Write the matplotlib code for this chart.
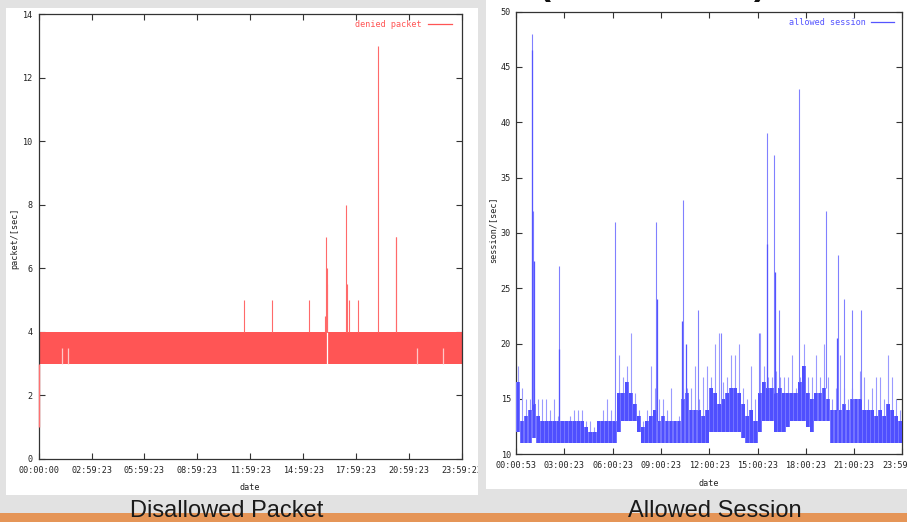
import matplotlib
matplotlib.use("Agg")
import matplotlib.pyplot as plt
import numpy as np
from matplotlib.patches import Rectangle

W, H = 907, 522

# ---------------- data: denied packets (left chart) ----------------
denied_xtick_labels = ["00:00:00", "02:59:23", "05:59:23", "08:59:23", "11:59:23",
                       "14:59:23", "17:59:23", "20:59:23", "23:59:23"]
denied_yticks = [0, 2, 4, 6, 8, 10, 12, 14]
denied_band_low = 3.0
denied_band_high = 4.0
denied_start_value = 1.0
denied_spike_hours = [11.65, 13.22, 15.35, 16.25, 16.30, 16.33, 16.37,
                      17.44, 17.47, 17.62, 18.13, 19.27, 20.26, 20.30]
denied_spike_values = [5.0, 5.0, 5.0, 4.5, 7.0, 5.5, 6.0,
                       8.0, 5.5, 5.0, 5.0, 13.0, 7.0, 7.0]
denied_notch_hours = [1.32, 1.66, 21.48, 22.96]
denied_notch_value = 3.5
denied_gap_hours = [16.33]

# ---------------- data: allowed sessions (right chart) ----------------
session_xtick_labels = ["00:00:53", "03:00:23", "06:00:23", "09:00:23", "12:00:23",
                        "15:00:23", "18:00:23", "21:00:23", "23:59:53"]
session_yticks = [10, 15, 20, 25, 30, 35, 40, 45, 50]
# per quarter-hour: lower edge of dense band, upper edge of dense band, highest thin line
session_low = [12, 11, 11, 11, 11.5, 11, 11, 11, 11, 11, 11, 11, 11, 11, 11, 11,
               11, 11, 11, 11, 11, 11, 11, 11, 11, 12, 13, 13, 13, 13, 12, 11,
               11, 11, 11, 11, 11, 11, 11, 11, 11, 11, 11, 11, 11, 11, 11, 11,
               12, 12, 12, 12, 12, 12, 12, 12, 11.5, 11, 11, 11, 12, 13, 13, 13,
               12, 12, 12, 12.5, 13, 13, 13, 13, 12.5, 12, 13, 13, 13, 13, 11, 11,
               11, 11, 11, 11, 11, 11, 11, 11, 11, 11, 11, 11, 11, 11, 11, 11]
session_high = [16.5, 13, 13.5, 14, 14.5, 13.5, 13, 13, 13, 13, 13, 13, 13, 13, 13, 13,
                13, 12.5, 12, 12, 13, 13, 13, 13, 13, 15.5, 15.5, 16.5, 15.5, 14.5, 13.5, 12.5,
                13, 13.5, 14, 13, 13.5, 13, 13, 13, 13, 15, 15.5, 14, 14, 14, 13.5, 14,
                16, 15.5, 14.5, 15, 15.5, 16, 16, 15.5, 14.5, 13.5, 14, 13, 15.5, 16.5, 16, 16,
                15.5, 16, 15.5, 15.5, 15.5, 15.5, 16.5, 18, 15.5, 15, 15.5, 15.5, 16, 15, 14, 14,
                14, 14.5, 14, 15, 15, 15, 14, 14, 14, 13.5, 14, 13.5, 14.5, 14, 13.5, 13]
session_light = [18, 16, 15, 15, 16, 15, 15, 15, 14, 15, 13.5, 13, 13, 13.5, 14, 14,
                 14, 13, 13, 12.5, 13, 14, 15, 14, 14, 19, 17, 18, 21, 15.5, 14, 13,
                 14, 18, 16, 15, 15, 14, 16, 13, 13.5, 16, 16, 16, 18, 15, 17, 18,
                 17, 20, 21, 16.5, 17, 19, 19, 20, 16, 15, 18, 15, 21, 18, 17, 17,
                 17.5, 17, 17, 17, 19, 16, 17, 20, 17, 17, 19, 17, 20, 17, 15, 16,
                 19, 16, 15, 16, 15, 17.5, 17, 15, 16, 17, 17, 15, 19, 17, 15, 14]
session_spike_hours = [0.975, 1.075, 2.67, 6.17, 8.70, 10.39, 11.30, 12.71,
                       15.11, 15.56, 16.04, 16.35, 17.60, 19.24, 20.00, 20.39,
                       20.89, 21.45]
session_spike_values = [48.0, 32.0, 27.0, 31.0, 31.0, 33.0, 23.0, 21.0,
                        21.0, 39.0, 37.0, 23.0, 43.0, 32.0, 28.0, 24.0,
                        23.0, 23.0]
session_dense_spike_hours = [0.99, 1.137, 2.68, 8.78, 10.33, 10.54, 15.58, 16.06, 19.92]
session_dense_spike_values = [46.5, 27.5, 19.5, 24.0, 22.0, 20.0, 29.0, 26.5, 20.5]

# ---------------- layout helpers ----------------
BG = "#e2e2e2"
RED = "#ff5555"
BLUE = "#5555ff"
FRAME = "#333333"
MONO = "DejaVu Sans Mono"


def fx(px):
    return px / W


def fy(py):
    return 1 - py / H


fig = plt.figure(figsize=(W / 100, H / 100), dpi=100, facecolor=BG)

# white panels of the slide
fig.patches.append(Rectangle((fx(6), fy(495)), (478 - 6) / W, (495 - 8) / H,
                             transform=fig.transFigure, facecolor="white",
                             edgecolor="none", zorder=-5))
fig.patches.append(Rectangle((fx(486), fy(489)), (907 - 486) / W, 489 / H,
                             transform=fig.transFigure, facecolor="white",
                             edgecolor="none", zorder=-5))
# orange footer bar
fig.patches.append(Rectangle((0, 0), 1, (522 - 513) / H, transform=fig.transFigure,
                             facecolor="#e59557", edgecolor="none", zorder=-4))


def style_axes(ax, labels, yticks, ylim, xpad, ypad):
    ax.set_facecolor("none")
    ax.set_xlim(0, 24)
    ax.set_ylim(*ylim)
    ax.set_xticks(np.arange(0, 25, 3))
    ax.set_xticklabels(labels)
    ax.set_yticks(yticks)
    ax.set_yticklabels([str(v) for v in yticks])
    ax.tick_params(direction="in", top=True, right=True, length=4.3, width=0.8,
                   color=FRAME, labelsize=6.1, labelcolor="#222222")
    ax.tick_params(axis="x", pad=xpad)
    ax.tick_params(axis="y", pad=ypad)
    for lab in ax.get_xticklabels() + ax.get_yticklabels():
        lab.set_family(MONO)
    for sp in ax.spines.values():
        sp.set_color(FRAME)
        sp.set_linewidth(0.9)


# ---------------- left chart ----------------
axL = fig.add_axes([fx(38.7), fy(459), (461.7 - 38.7) / W, (459 - 14.3) / H])
style_axes(axL, denied_xtick_labels, denied_yticks, (0, 14), 5.0, 4.6)
axL.fill_between([0, 24], denied_band_low, denied_band_high, color=RED, lw=0, zorder=2)
axL.vlines([0.0], denied_start_value, denied_band_low, color="#ff7070", lw=1.0,
           zorder=5, clip_on=False)
axL.vlines(denied_notch_hours, denied_band_low, denied_notch_value, color="#ffc8c8",
           lw=0.9, zorder=3)
axL.vlines(denied_gap_hours, denied_band_low, denied_band_high, color="white",
           lw=0.9, zorder=3)
axL.vlines(denied_spike_hours, denied_band_high, denied_spike_values, color="#ff6a6a",
           lw=0.8, zorder=3)
axL.plot([], [], color=RED, lw=0.9, label="denied packet")
legL = axL.legend(loc="upper right", bbox_to_anchor=(0.978, 0.987), frameon=False,
                  markerfirst=False, handlelength=2.9, handletextpad=0.7,
                  borderpad=0, borderaxespad=0,
                  prop={"family": MONO, "size": 6.1}, labelcolor=RED)

# ---------------- right chart ----------------
axR = fig.add_axes([fx(516), fy(454.3), (902.4 - 516) / W, (454.3 - 11.6) / H])
style_axes(axR, session_xtick_labels, session_yticks, (10, 50), 5.0, 3.6)
n = len(session_low)
edges = np.arange(n + 1) * 0.25
low_ext = list(session_low) + [session_low[-1]]
high_ext = list(session_high) + [session_high[-1]]
centers = (np.arange(n) + 0.5) * 0.25
axR.vlines(centers, session_high, session_light, color="#9a9aff", lw=0.8, zorder=2)
# dense band: lighter envelope with darker strokes inside
axR.fill_between(edges, low_ext, high_ext, step="post", color="#7474ff", lw=0, zorder=3)
axR.bar(centers, np.array(session_high) - np.array(session_low), bottom=session_low,
        width=0.17, color="#4f4fff", lw=0, zorder=3)
idx = np.clip((np.array(session_spike_hours) / 0.25).astype(int), 0, n - 1)
axR.vlines(session_spike_hours, np.array(session_high)[idx], session_spike_values,
           color="#8080ff", lw=0.8, zorder=4)
idx2 = np.clip((np.array(session_dense_spike_hours) / 0.25).astype(int), 0, n - 1)
axR.vlines(session_dense_spike_hours, np.array(session_high)[idx2],
           session_dense_spike_values, color=BLUE, lw=0.9, zorder=4)
axR.plot([], [], color=BLUE, lw=0.9, label="allowed session")
legR = axR.legend(loc="upper right", bbox_to_anchor=(0.977, 0.986), frameon=False,
                  markerfirst=False, handlelength=2.6, handletextpad=0.7,
                  borderpad=0, borderaxespad=0,
                  prop={"family": MONO, "size": 6.1}, labelcolor=BLUE)

# axis titles
fig.text(fx(15), fy(238), "packet/[sec]", rotation=90, ha="center", va="center",
         family=MONO, fontsize=6.1, color="#222222")
fig.text(fx(249.5), fy(487.3), "date", ha="center", va="center",
         family=MONO, fontsize=6.1, color="#222222")
fig.text(fx(493), fy(230), "session/[sec]", rotation=90, ha="center", va="center",
         family=MONO, fontsize=6.1, color="#222222")
fig.text(fx(708.5), fy(483.3), "date", ha="center", va="center",
         family=MONO, fontsize=6.1, color="#222222")

# gap strip between panels (hides the clipped last tick label)
fig.patches.append(Rectangle((fx(478), fy(486)), 8 / W, 30 / H, transform=fig.transFigure,
                             facecolor=BG, edgecolor="none", zorder=10))

# captions
fig.text(fx(227), fy(517), "Disallowed Packet", ha="center", va="baseline",
         family="Liberation Sans", fontsize=17, color="#1a1a1a", zorder=11)
fig.text(fx(715), fy(517), "Allowed Session", ha="center", va="baseline",
         family="Liberation Sans", fontsize=17, color="#1a1a1a", zorder=11)

# fragments of the slide title cut off at the top edge
for px, ch in [(544, "("), (718, ","), (760, ")")]:
    fig.text(fx(px), fy(-6.5), ch, ha="center", va="baseline",
             family="Liberation Sans", fontweight="bold", fontsize=26, color="#111111")

fig.savefig("out.png", dpi=100, facecolor=BG)
